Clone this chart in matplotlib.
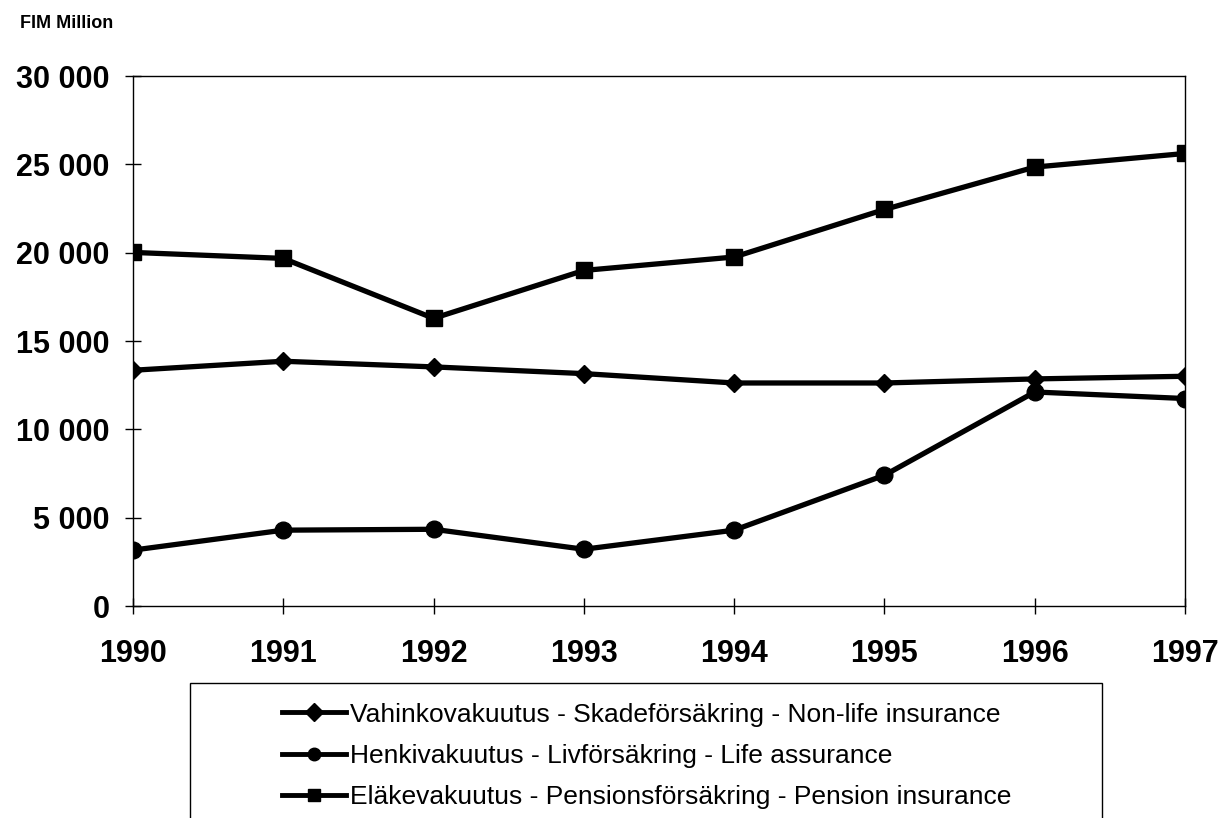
import matplotlib.pyplot as plt
from matplotlib.patches import Rectangle
from matplotlib.ticker import FuncFormatter

years = [1990, 1991, 1992, 1993, 1994, 1995, 1996, 1997]
vahinko = [13350, 13860, 13540, 13160, 12630, 12630, 12860, 13010]
henki = [3170, 4300, 4350, 3220, 4300, 7410, 12120, 11750]
elake = [20020, 19680, 16290, 19000, 19760, 22450, 24850, 25620]

labels = ["Vahinkovakuutus - Skadeförsäkring - Non-life insurance",
          "Henkivakuutus - Livförsäkring - Life assurance",
          "Eläkevakuutus - Pensionsförsäkring - Pension insurance"]

plt.rcParams['font.family'] = ['Liberation Sans', 'DejaVu Sans']

fig = plt.figure(figsize=(12.22, 8.18), dpi=100)
ax = fig.add_axes([0.1088, 0.259, 0.861, 0.648])

ax.plot(years, vahinko, color="black", lw=3.8, marker="D", ms=9, label=labels[0])
ax.plot(years, henki, color="black", lw=3.8, marker="o", ms=12, label=labels[1])
ax.plot(years, elake, color="black", lw=3.8, marker="s", ms=11, label=labels[2])

ax.set_xlim(1990, 1997)
ax.set_ylim(0, 30000)
ax.set_xticks(years)
ax.set_yticks(range(0, 30001, 5000))
ax.yaxis.set_major_formatter(FuncFormatter(lambda v, p: f"{int(v):,}".replace(",", " ")))
for s in ax.spines.values():
    s.set_linewidth(1.0)
ax.tick_params(direction="inout", length=12, width=1.0, labelsize=22)
ax.tick_params(axis="x", pad=18)
ax.tick_params(axis="y", pad=11)
for t in ax.get_xticklabels() + ax.get_yticklabels():
    t.set_fontweight("bold")

fig.text(0.016, 0.966, "FIM Million", fontsize=13, fontweight="bold")

# legend box runs off the bottom of the page in the original
fig.patches.append(Rectangle((0.1555, -0.05), 0.7463, 0.215, transform=fig.transFigure,
                             fill=False, edgecolor="black", lw=1.0))
leg = fig.legend(loc="upper left", bbox_to_anchor=(0.231, 0.141), ncol=1, frameon=False,
                 prop={'size': 19}, handlelength=2.4, handletextpad=0.15,
                 labelspacing=0.66, borderpad=0, borderaxespad=0)
for h in leg.legend_handles:
    h.set_markersize(9)
    h.set_linewidth(3.5)

fig.savefig("out.png", dpi=100)
